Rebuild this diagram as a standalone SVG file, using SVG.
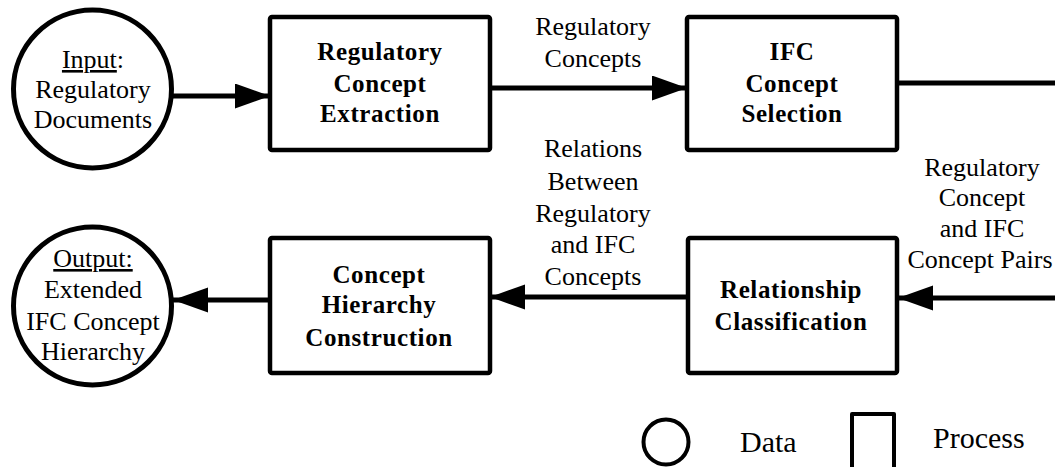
<svg xmlns="http://www.w3.org/2000/svg" width="1055" height="467" viewBox="0 0 1055 467">
<defs>
<style>
.box{fill:#fff;stroke:#000;stroke-width:4.5;stroke-linejoin:round}
.data{fill:#fff;stroke:#000;stroke-width:5}
.conn{fill:none;stroke:#000;stroke-width:5}
.t{font-family:"Liberation Serif","Times New Roman",serif;font-size:26px;fill:#000;text-anchor:middle}
.b{font-family:"Liberation Serif","Times New Roman",serif;font-size:25px;font-weight:bold;fill:#000;text-anchor:middle;letter-spacing:0.6px}
.lg{font-family:"Liberation Serif","Times New Roman",serif;font-size:30px;fill:#000}
</style>
<marker id="ah" markerUnits="userSpaceOnUse" markerWidth="36" markerHeight="26" refX="35" refY="12.5" orient="auto">
<path d="M0,0 L35,12.5 L0,25 z" fill="#000"/>
</marker>
</defs>
<rect width="1055" height="467" fill="#fff"/>

<g id="connectors">
<line class="conn" x1="173" y1="96" x2="270" y2="96" marker-end="url(#ah)"/>
<line class="conn" x1="490" y1="88" x2="687" y2="88" marker-end="url(#ah)"/>
<line class="conn" x1="897" y1="83" x2="1060" y2="83"/>
<line class="conn" x1="1060" y1="298" x2="898" y2="298" marker-end="url(#ah)"/>
<line class="conn" x1="688" y1="297" x2="490" y2="297" marker-end="url(#ah)"/>
<line class="conn" x1="270" y1="300" x2="173" y2="300" marker-end="url(#ah)"/>
<g id="label-regulatory-concepts">
<text class="t" x="593" y="35">Regulatory</text>
<text class="t" x="593" y="67">Concepts</text>
</g>
<g id="label-relations">
<text class="t" x="593" y="157">Relations</text>
<text class="t" x="593" y="190">Between</text>
<text class="t" x="593" y="222">Regulatory</text>
<text class="t" x="593" y="253">and IFC</text>
<text class="t" x="593" y="285">Concepts</text>
</g>
<g id="label-pairs">
<text class="t" x="982" y="176">Regulatory</text>
<text class="t" x="982" y="206">Concept</text>
<text class="t" x="982" y="237">and IFC</text>
<text class="t" x="980" y="268">Concept Pairs</text>
</g>
</g>

<g id="input">
<circle class="data" cx="92.5" cy="89" r="79"/>
<text class="t" x="93" y="68"><tspan text-decoration="underline">Input</tspan>:</text>
<text class="t" x="93" y="98">Regulatory</text>
<text class="t" x="93" y="128">Documents</text>
</g>

<g id="regulatory-concept-extraction">
<rect class="box" x="270" y="17" width="220" height="133" rx="2"/>
<text class="b" x="380" y="60">Regulatory</text>
<text class="b" x="380" y="92">Concept</text>
<text class="b" x="380" y="122">Extraction</text>
</g>

<g id="ifc-concept-selection">
<rect class="box" x="687" y="17" width="210" height="133" rx="2"/>
<text class="b" x="792" y="60">IFC</text>
<text class="b" x="792" y="92">Concept</text>
<text class="b" x="792" y="122">Selection</text>
</g>

<g id="relationship-classification">
<rect class="box" x="688" y="238" width="209" height="135" rx="2"/>
<text class="b" x="791" y="298">Relationship</text>
<text class="b" x="791" y="330">Classification</text>
</g>

<g id="concept-hierarchy-construction">
<rect class="box" x="270" y="238" width="220" height="135" rx="2"/>
<text class="b" x="379" y="283">Concept</text>
<text class="b" x="379" y="313">Hierarchy</text>
<text class="b" x="379" y="346">Construction</text>
</g>

<g id="output">
<circle class="data" cx="92.5" cy="306" r="79"/>
<text class="t" x="93" y="267" text-decoration="underline">Output:</text>
<text class="t" x="93" y="298">Extended</text>
<text class="t" x="93" y="330">IFC Concept</text>
<text class="t" x="93" y="360">Hierarchy</text>
</g>

<g id="legend">
<circle cx="666" cy="442" r="22.5" fill="#fff" stroke="#000" stroke-width="4"/>
<text class="lg" x="740" y="452">Data</text>
<path d="M852,470 L852,414 L894,414 L894,470" fill="none" stroke="#000" stroke-width="4" stroke-linejoin="round"/>
<text class="lg" x="933" y="448">Process</text>
</g>
</svg>
